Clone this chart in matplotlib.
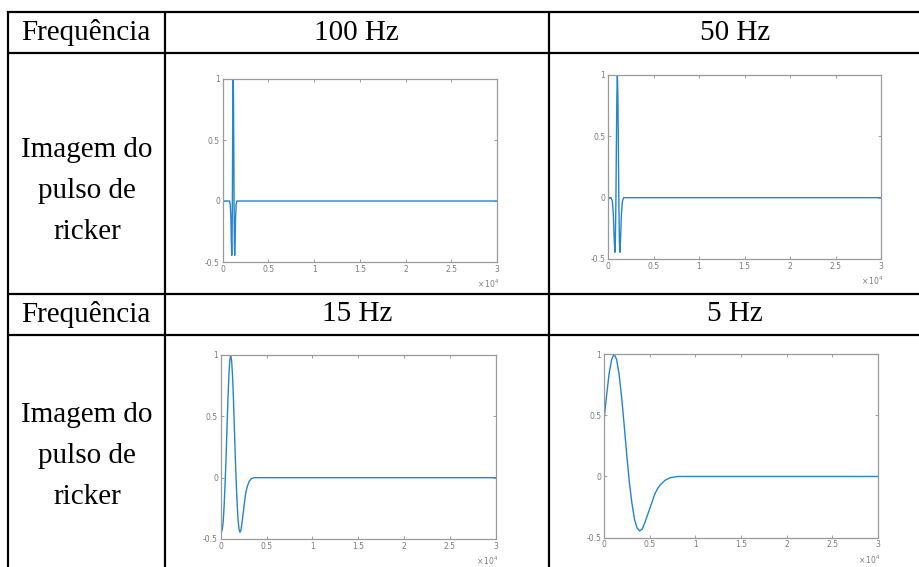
import matplotlib
matplotlib.use("Agg")
import matplotlib.pyplot as plt
from matplotlib.lines import Line2D

W, H = 919, 567

# frequencies shown in the header cells
freq_labels = ["100 Hz", "50 Hz", "15 Hz", "5 Hz"]
row_header = "Frequência"
row_label = ["Imagem do", "pulso de", "ricker"]

# pulse samples (sample index, amplitude)
x_100 = [0, 750, 830, 894, 942, 990, 1022, 1054, 1086, 1118, 1150,
         1182, 1214, 1246, 1278, 1310, 1358, 1406, 1470, 1550, 30000]
y_100 = [0, 0, -0.03, -0.14, -0.32, -0.445, -0.35, -0.05, 0.41, 0.83, 1.0,
         0.83, 0.41, -0.05, -0.35, -0.445, -0.32, -0.14, -0.03, 0, 0]

x_50 = [0, 342, 480, 590, 672, 755, 810, 865, 920, 975, 1030,
        1085, 1140, 1195, 1250, 1305, 1388, 1470, 1580, 1720, 30000]
y_50 = [0, 0, -0.03, -0.14, -0.32, -0.445, -0.35, -0.05, 0.41, 0.83, 1.0,
        0.83, 0.41, -0.05, -0.35, -0.445, -0.32, -0.14, -0.03, 0, 0]

x_15 = [0, 80, 180, 280, 380, 480, 590, 690, 790, 890, 990, 1090,
        1190, 1290, 1390, 1490, 1590, 1700, 1800, 1900, 2000, 2100, 2200,
        2300, 2400, 2500, 2600, 2700, 2800, 2910, 3110, 3310, 3620, 30000]
y_15 = [-0.43, -0.445, -0.42, -0.35, -0.22, -0.05, 0.17, 0.41, 0.64, 0.83, 0.955, 1.0,
        0.955, 0.83, 0.64, 0.41, 0.17, -0.05, -0.22, -0.35, -0.42, -0.445, -0.43,
        -0.38, -0.32, -0.26, -0.20, -0.14, -0.10, -0.07, -0.03, -0.01, 0, 0]

x_5 = [0, 280, 560, 840, 1100, 1380, 1660, 1940, 2220, 2500, 2780, 3060,
       3340, 3620, 3900, 4180, 4460, 4740, 5020, 5300, 5580, 5860, 6140,
       6700, 7260, 8100, 30000]
y_5 = [0.46, 0.66, 0.84, 0.955, 1.0, 0.955, 0.83, 0.64, 0.41, 0.17, -0.05, -0.22,
       -0.35, -0.42, -0.445, -0.43, -0.38, -0.32, -0.26, -0.20, -0.14, -0.10, -0.07,
       -0.03, -0.01, 0, 0]

series = [(x_100, y_100), (x_50, y_50), (x_15, y_15), (x_5, y_5)]

xticks = [0, 5000, 10000, 15000, 20000, 25000, 30000]
xticklabels = ["0", "0.5", "1", "1.5", "2", "2.5", "3"]
yticks = [-0.5, 0, 0.5, 1]
yticklabels = ["-0.5", "0", "0.5", "1"]

fig = plt.figure(figsize=(W / 100, H / 100), dpi=100)
fig.patch.set_facecolor("white")


def fx(px):
    return px / W


def fy(py):
    return 1 - py / H


def hline(y, x0, x1):
    fig.add_artist(Line2D([fx(x0), fx(x1)], [fy(y), fy(y)], color="black",
                          lw=1.6, transform=fig.transFigure, solid_capstyle="butt"))


def vline(x, y0, y1):
    fig.add_artist(Line2D([fx(x), fx(x)], [fy(y0), fy(y1)], color="black",
                          lw=1.6, transform=fig.transFigure, solid_capstyle="butt"))


# table grid (right and bottom edges fall outside the picture)
col_x = [8, 164.5, 549, 921]
row_y = [12, 53, 293.7, 335, 580]
for y in row_y[:4]:
    hline(y, col_x[0] - 0.8, W)
for x in col_x[:3]:
    vline(x, row_y[0] - 0.8, H)

serif = ["Liberation Serif", "DejaVu Serif"]
fs = 21

for r, (top, bot) in enumerate([(12, 53), (293.7, 335)]):
    cy = (top + bot) / 2
    fig.text(fx((col_x[0] + col_x[1]) / 2), fy(cy), row_header, family=serif,
             fontsize=fs, ha="center", va="center")
    for c in range(2):
        fig.text(fx((col_x[c + 1] + col_x[c + 2]) / 2), fy(cy), freq_labels[2 * r + c],
                 family=serif, fontsize=fs, ha="center", va="center")

for base in [150, 415]:
    for i, t in enumerate(row_label):
        fig.text(fx(87), fy(base + 41 * i), t, family=serif, fontsize=fs,
                 ha="center", va="center")

# plot boxes: left, right, top, bottom in pixels
boxes = [(222.7, 497, 79, 262), (608, 881, 75, 259),
         (220.7, 495.7, 355, 539), (604, 878, 354, 537.7)]

grey = "#7a7a7a"
for (l, r, t, b), (xs, ys) in zip(boxes, series):
    ax = fig.add_axes([fx(l), fy(b), (r - l) / W, (b - t) / H])
    ax.plot(xs, ys, color="#2584cc", lw=1.0)
    ax.set_xlim(0, 30000)
    ax.set_ylim(-0.5, 1)
    ax.set_xticks(xticks)
    ax.set_xticklabels(xticklabels)
    ax.set_yticks(yticks)
    ax.set_yticklabels(yticklabels)
    ax.tick_params(direction="in", length=2, width=0.5, colors=grey,
                   labelsize=5.5, top=True, right=True, pad=2)
    for s in ax.spines.values():
        s.set_color("#9a9a9a")
        s.set_linewidth(0.9)
    ax.text(1.01, -0.085, r"$\times\,10^4$", transform=ax.transAxes, fontsize=5.5,
            color=grey, ha="right", va="top")

fig.savefig("out.png", dpi=100)
